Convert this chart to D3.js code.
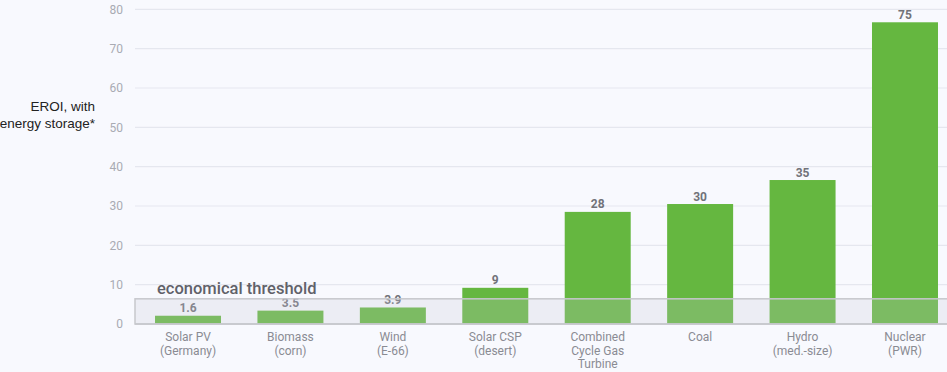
<!DOCTYPE html>
<html>
<head>
<meta charset="utf-8">
<script src="https://cdn.jsdelivr.net/npm/d3@7"></script>
<style>
  html, body { margin: 0; padding: 0; background: #f8f9fe; }
  svg { display: block; }
</style>
</head>
<body>
<svg id="chart" width="947" height="372"></svg>
<script>
// ---- data ----
const categories = [
  ["Solar PV", "(Germany)"],
  ["Biomass", "(corn)"],
  ["Wind", "(E-66)"],
  ["Solar CSP", "(desert)"],
  ["Combined", "Cycle Gas", "Turbine"],
  ["Coal"],
  ["Hydro", "(med.-size)"],
  ["Nuclear", "(PWR)"]
];
const valueLabels = ["1.6", "3.5", "3.9", "9", "28", "30", "35", "75"];
// bar heights as drawn in the picture
const barValues = [2.1, 3.4, 4.2, 9.2, 28.5, 30.5, 36.6, 76.7];
const yTicks = [0, 10, 20, 30, 40, 50, 60, 70, 80];
const threshold = 6.4;
const thresholdLabel = "economical threshold";
const yTitle = ["EROI, with", "energy storage*"];

// ---- layout ----
const svg = d3.select("#chart");
const plotLeft = 135, plotRight = 947;
const y = d3.scaleLinear().domain([0, 80]).range([324, 9.3]);
const keys = categories.map((c, i) => i);
const x = d3.scaleBand().domain(keys).range([136.8, 956.2])
  .paddingInner(0.3557).paddingOuter(0.3557 / 2);

// gridlines
svg.append("g").selectAll("line").data(yTicks.filter(t => t > 0)).join("line")
  .attr("x1", plotLeft).attr("x2", plotRight)
  .attr("y1", d => y(d)).attr("y2", d => y(d))
  .attr("stroke", "#e5e7ef").attr("stroke-width", 1.2);

// y axis tick labels
const yAxis = d3.axisLeft(y).tickValues(yTicks).tickSize(0).tickPadding(0);
const gy = svg.append("g").attr("transform", "translate(123,0)").call(yAxis);
gy.select(".domain").remove();
gy.selectAll("text")
  .attr("font-family", "Roboto, sans-serif").attr("font-size", 12)
  .attr("fill", "#a9abb3");

// y title
svg.append("g").selectAll("text").data(yTitle).join("text")
  .attr("x", 95).attr("y", (d, i) => 111 + i * 17)
  .attr("text-anchor", "end")
  .attr("font-family", "'Liberation Sans', Arial, sans-serif")
  .attr("font-size", 13.5).attr("fill", "#222")
  .text(d => d);

// bars
svg.append("g").selectAll("rect").data(barValues).join("rect")
  .attr("x", (d, i) => x(i)).attr("width", x.bandwidth())
  .attr("y", d => y(d)).attr("height", d => y(0) - y(d))
  .attr("fill", "#65b740");

// value labels
svg.append("g").selectAll("text").data(barValues).join("text")
  .attr("x", (d, i) => x(i) + x.bandwidth() / 2)
  .attr("y", d => y(d) - 3.5)
  .attr("text-anchor", "middle")
  .attr("font-family", "Roboto, sans-serif").attr("font-weight", 700)
  .attr("font-size", 12).attr("fill", "#717279")
  .text((d, i) => valueLabels[i]);

// threshold band (overlay)
svg.append("rect")
  .attr("x", plotLeft).attr("y", y(threshold))
  .attr("width", plotRight - plotLeft + 5).attr("height", y(0) - y(threshold))
  .attr("fill", "rgba(200,202,212,0.24)")
  .attr("stroke", "#c6c7cc").attr("stroke-width", 1.5);

// baseline
svg.append("line")
  .attr("x1", plotLeft).attr("x2", plotRight)
  .attr("y1", y(0)).attr("y2", y(0))
  .attr("stroke", "#c6c7cc").attr("stroke-width", 1.5);

// threshold label
svg.append("text")
  .attr("x", 157).attr("y", y(threshold) - 4.5)
  .attr("font-family", "Roboto, sans-serif").attr("font-size", 16.5)
  .attr("font-weight", 500)
  .attr("fill", "#606169")
  .text(thresholdLabel);

// category labels
const cg = svg.append("g").selectAll("text").data(categories).join("text")
  .attr("x", (d, i) => x(i) + x.bandwidth() / 2)
  .attr("y", 341)
  .attr("text-anchor", "middle")
  .attr("font-family", "Roboto, sans-serif").attr("font-size", 12)
  .attr("fill", "#8a8b93");
cg.selectAll("tspan").data(d => d).join("tspan")
  .attr("x", function() { return d3.select(this.parentNode).attr("x"); })
  .attr("dy", (d, i) => i === 0 ? 0 : 13.5)
  .text(d => d);
</script>
</body>
</html>
